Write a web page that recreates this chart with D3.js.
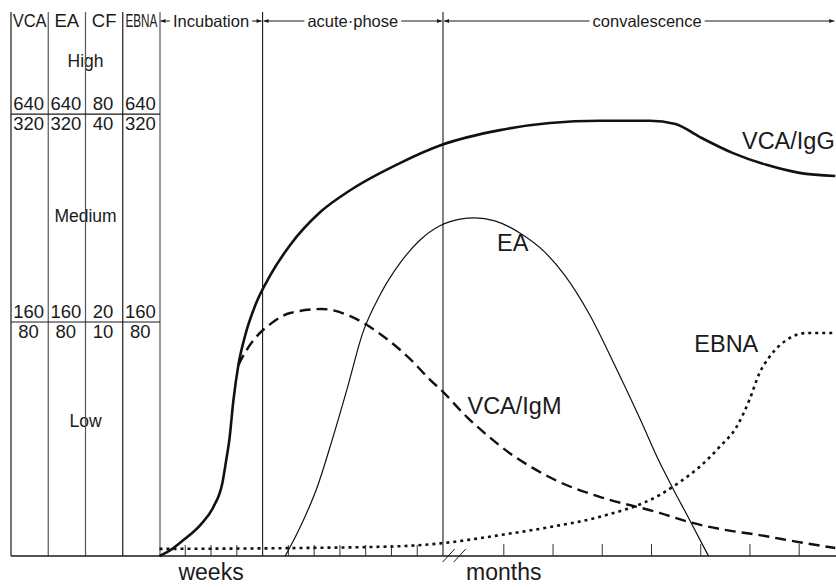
<!DOCTYPE html>
<html><head><meta charset="utf-8">
<script src="https://cdn.jsdelivr.net/npm/d3@7"></script>
<style>
body{margin:0;background:#fff}
svg{display:block;font-family:"Liberation Sans",Arial,Helvetica,sans-serif}
</style>
</head><body><svg id="c" width="836" height="587"></svg>
<script>
// ---------- data ----------
const methodHeaders = ["VCA", "EA", "CF", "EBNA"];
const titerHighUpper = [640, 640, 80, 640];
const titerHighLower = [320, 320, 40, 320];
const titerLowUpper  = [160, 160, 20, 160];
const titerLowLower  = [80, 80, 10, 80];
const levelBandNames = ["High", "Medium", "Low"];
const levelBandCentres = [110, 75, 29];      // relative antibody level
const levelBoundaries = [99.3, 52.6];        // High|Medium, Medium|Low
const phaseNames = ["Incubation", "acute\u00b7phose", "convalescence"];
const phaseBounds = [0, 4, 11, 26.22];       // time position (week units)
const weekTicks = [1, 2, 3, 4, 5, 6, 7, 8, 9, 10];
const monthTicks = [1, 2, 3, 4, 5, 6, 7];
const axisLabels = ["weeks", "months"];
const seriesNames = ["VCA/IgG", "EA", "VCA/IgM", "EBNA"];

// [time position, relative level]
const vcaIgG = [[0,0],[0.31,0.9],[0.93,3.6],[1.59,7.0],[2.09,11.0],[2.44,16.4],[2.59,21.6],[2.71,26.1],
  [2.87,35.1],[3.06,42.9],[3.33,49.7],[3.72,56.4],[4.30,63.1],[5.07,69.9],[6.24,77.3],[7.40,82.2],
  [9.33,88.3],[10.96,92.4],[13.21,95.7],[15.14,97.3],[17.08,97.8],[19.02,97.8],[20.02,97.1],
  [20.95,94.2],[22.23,90.6],[23.55,87.9],[24.83,86.1],[26.22,85.4]];
const vcaIgM = [[3.06,42.9],[3.33,45.8],[3.72,49.0],[4.30,52.1],[5.07,54.6],[6.31,55.5],[7.40,53.9],
  [8.56,49.9],[9.72,44.3],[10.50,39.6],[11.00,36.9],[11.93,31.2],[12.70,27.2],[13.59,23.1],[14.48,19.8],
  [15.53,16.6],[17.08,13.3],[19.40,9.7],[20.57,7.6],[22.00,5.8],[23.28,4.7],[24.83,3.1],[26.22,1.8]];
const earlyAntigen = [[4.88,0],[5.46,6.5],[6.12,15.5],[6.70,26.1],[7.32,38.4],[7.86,49.7],[8.56,58.7],
  [9.33,65.8],[10.11,71.0],[10.88,74.2],[11.66,75.7],[12.24,76.0],[13.01,75.3],[13.98,72.6],[14.95,68.3],
  [15.72,63.1],[16.69,54.2],[17.66,42.9],[18.63,31.0],[19.40,21.1],[19.91,15.3],[20.57,8.1],[21.30,0]];
const ebna = [[0,1.6],[5.46,1.8],[9.33,2.2],[11.00,2.9],[13.21,4.7],[15.14,6.5],[17.08,8.8],[19.40,13.7],
  [20.18,16.6],[20.95,20.0],[21.73,24.5],[22.39,29.0],[22.89,35.1],[23.28,41.1],[23.66,44.7],
  [24.32,48.5],[25.10,50.1],[26.22,50.1]];

// ---------- layout ----------
const svg = d3.select("#c");
const ink = "#1a1a1a";
const baseY = 556, topY = 12, barY = 21;
const x = d3.scaleLinear().domain([0, 11]).range([159.5, 443]);
const y = d3.scaleLinear().domain([0, 100]).range([baseY, 111]);
const monthScale = d3.scaleLinear().domain([0, 7]).range([x(11.45), x(24.82)]);
const cols = d3.scaleBand().domain(methodHeaders).range([11, 160]);

// arrow marker
const defs = svg.append("defs");
defs.append("marker").attr("id", "arr").attr("viewBox", "0 0 10 10")
  .attr("refX", 10).attr("refY", 5).attr("markerWidth", 6).attr("markerHeight", 5)
  .attr("markerUnits", "userSpaceOnUse").attr("orient", "auto-start-reverse")
  .append("path").attr("d", "M0,1L10,5L0,9Z").attr("fill", ink);

// ---------- left panel ----------
const left = svg.append("g");
const headerFit = {VCA: 34, EBNA: 32};
left.selectAll("text.hd").data(methodHeaders).join("text")
  .attr("x", d => cols(d) + cols.bandwidth() / 2).attr("y", 27)
  .attr("text-anchor", "middle").attr("font-size", 18.5).attr("fill", ink)
  .each(function (d) { if (headerFit[d]) d3.select(this).attr("textLength", headerFit[d]).attr("lengthAdjust", "spacingAndGlyphs"); })
  .text(d => d);

function titerRow(vals, yy) {
  left.append("g").selectAll("text").data(vals).join("text")
    .attr("x", (d, i) => cols(methodHeaders[i]) + cols.bandwidth() / 2 - 1).attr("y", yy)
    .attr("text-anchor", "middle").attr("font-size", 18.5).attr("fill", ink).text(d => d);
}
titerRow(titerHighUpper, y(levelBoundaries[0]) - 4);
titerRow(titerHighLower, y(levelBoundaries[0]) + 16);
titerRow(titerLowUpper, y(levelBoundaries[1]) - 4);
titerRow(titerLowLower, y(levelBoundaries[1]) + 16);

left.selectAll("text.band").data(levelBandNames).join("text")
  .attr("x", 85.5).attr("y", (d, i) => y(levelBandCentres[i]))
  .attr("text-anchor", "middle").attr("font-size", 17.5).attr("fill", ink).text(d => d);

const colEdges = methodHeaders.map(d => cols(d)).concat([cols.range()[1]]);
left.selectAll("line.col").data(colEdges).join("line")
  .attr("x1", d => d).attr("x2", d => d).attr("y1", topY).attr("y2", baseY)
  .attr("stroke", (d, i) => (i === 0 || i === 3) ? ink : "#555").attr("stroke-width", 1.2);
left.selectAll("line.bd").data(levelBoundaries).join("line")
  .attr("x1", 11).attr("x2", 160).attr("y1", d => y(d)).attr("y2", d => y(d))
  .attr("stroke", ink).attr("stroke-width", 1.1);

// ---------- phase bar ----------
const phaseG = svg.append("g");
phaseBounds.slice(1, 3).forEach(b => {
  phaseG.append("line").attr("x1", x(b)).attr("x2", x(b)).attr("y1", topY).attr("y2", baseY)
    .attr("stroke", ink).attr("stroke-width", 1.1);
});
phaseNames.forEach((name, i) => {
  const a = x(phaseBounds[i]) + 1, b = Math.min(x(phaseBounds[i + 1]) - 1, 835);
  const cx = (a + b) / 2 + (i === 2 ? 8 : 0);
  const t = phaseG.append("text").attr("x", cx).attr("y", barY + 5.5)
    .attr("text-anchor", "middle").attr("font-size", 16.5).attr("fill", ink).text(name);
  const w = t.node().getComputedTextLength();
  phaseG.append("line").attr("x1", cx - w / 2 - 3).attr("x2", a).attr("y1", barY).attr("y2", barY)
    .attr("stroke", ink).attr("stroke-width", 1).attr("marker-end", "url(#arr)");
  phaseG.append("line").attr("x1", cx + w / 2 + 3).attr("x2", b).attr("y1", barY).attr("y2", barY)
    .attr("stroke", ink).attr("stroke-width", 1).attr("marker-end", "url(#arr)");
});

// ---------- axis ----------
const axisG = svg.append("g");
axisG.append("line").attr("x1", 11).attr("x2", 836).attr("y1", baseY).attr("y2", baseY)
  .attr("stroke", ink).attr("stroke-width", 1.3);
axisG.selectAll("line.wt").data(weekTicks).join("line")
  .attr("x1", d => x(d)).attr("x2", d => x(d)).attr("y1", baseY).attr("y2", baseY - 11)
  .attr("stroke", "#333").attr("stroke-width", 1);
axisG.selectAll("line.mt").data(monthTicks).join("line")
  .attr("x1", d => monthScale(d)).attr("x2", d => monthScale(d)).attr("y1", baseY).attr("y2", baseY - 12)
  .attr("stroke", "#333").attr("stroke-width", 1);
// break marks
[11.22, 11.65].forEach(t => {
  axisG.append("line").attr("x1", x(t) - 6).attr("y1", baseY + 6).attr("x2", x(t) + 6).attr("y2", baseY - 7)
    .attr("stroke", ink).attr("stroke-width", 1);
});
axisG.append("text").attr("x", x(2)).attr("y", 580).attr("text-anchor", "middle")
  .attr("font-size", 23).attr("fill", ink).text(axisLabels[0]);
axisG.append("text").attr("x", monthScale(1)).attr("y", 580).attr("text-anchor", "middle")
  .attr("font-size", 23).attr("fill", ink).text(axisLabels[1]);

// ---------- curves ----------
const line = d3.line().x(d => x(d[0])).y(d => y(d[1])).curve(d3.curveMonotoneX);
const curves = svg.append("g").attr("fill", "none").attr("stroke", "#111");
curves.append("path").attr("d", line(ebna)).attr("stroke-width", 2.6).attr("stroke-dasharray", "3,4");
curves.append("path").attr("d", line(vcaIgM)).attr("stroke-width", 2.4).attr("stroke-dasharray", "11,6");
curves.append("path").attr("d", line(earlyAntigen)).attr("stroke-width", 1.2);
curves.append("path").attr("d", line(vcaIgG)).attr("stroke-width", 2.6);

// series labels
const labelPos = [[22.6, 91.4], [13.1, 68.6], [11.95, 31.9], [20.75, 45.8]];
svg.append("g").selectAll("text").data(seriesNames).join("text")
  .attr("x", (d, i) => x(labelPos[i][0])).attr("y", (d, i) => y(labelPos[i][1]))
  .attr("font-size", 23.5).attr("fill", ink).text(d => d);
</script>
</body></html>
